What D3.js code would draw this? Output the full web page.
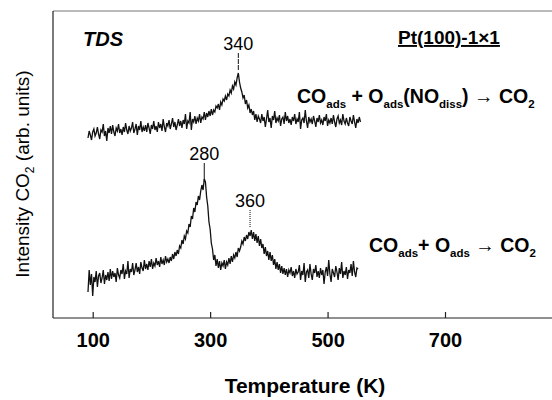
<!DOCTYPE html>
<html>
<head>
<meta charset="utf-8">
<script src="https://cdn.jsdelivr.net/npm/d3@7"></script>
<style>
body { margin: 0; background: #fff; }
svg { display: block; font-family: Arial, "Liberation Sans", sans-serif; }
</style>
</head>
<body>
<div class="chart"></div>
<script>
// temperature grid of the two traces (K)
const tStart = 92, tStep = 2;

// CO + O(NO diss) trace (arb. units, offset included)
const upperCurve = [
    180,187,183,178,186,189,182,185,191,184, 179,188,186,194,182,187,177,190,185,192,
    184,193,186,182,190,187,194,185,189,183, 191,186,195,188,184,192,187,190,196,185,
    189,194,183,192,188,197,186,191,187,193, 186,195,190,184,193,189,197,188,192,186,
    196,190,194,187,199,191,186,195,192,198, 189,194,200,191,196,188,193,199,192,197,
    190,198,194,204,189,197,195,206,188,199, 196,202,194,200,197,204,195,201,199,206,
    198,205,201,207,202,209,203,208,206,212, 210,214,208,216,213,219,217,222,218,224,
    222,228,225,232,229,236,233,240,245,236, 230,226,220,223,214,218,210,213,205,209,
    203,207,198,204,196,202,199,195,204,197, 201,191,199,208,196,200,190,202,198,207,
    195,200,197,203,192,199,201,194,206,197, 202,195,199,193,201,197,204,194,199,196,
    206,189,198,200,195,208,197,190,201,196, 199,194,202,197,191,200,196,203,195,198,
    193,201,197,204,192,198,195,200,194,203, 196,191,199,202,195,198,193,204,197,194,
    200,195,192,201,197,194,203,196,190,199, 195,201,196];

// CO + O trace
const lowerCurve = [
    26,48,33,44,22,41,36,47,31,42, 45,35,40,48,34,43,38,46,37,49,
    39,47,41,45,36,50,43,40,48,44, 54,39,47,44,57,40,49,46,55,43,
    48,55,46,51,44,56,50,47,58,49, 54,48,57,51,59,49,55,52,60,53,
    57,51,61,54,58,53,62,56,59,55, 61,57,64,59,66,62,68,64,72,70,
    78,74,82,79,87,85,94,91,102,99, 110,106,116,113,122,118,127,133,128,139,
    136,121,112,96,89,75,69,58,63,52, 59,50,57,48,55,52,58,49,56,53,
    60,54,62,56,63,60,66,61,70,67, 71,77,74,81,77,83,79,86,82,88,
    79,86,77,84,75,82,72,79,70,74, 64,71,62,67,58,66,57,63,53,59,
    49,56,48,54,45,52,44,50,43,49, 41,48,45,51,42,47,40,49,44,46,
    53,38,47,43,55,36,46,48,40,54, 44,38,49,45,53,41,47,40,50,43,
    48,34,46,51,42,58,44,36,49,45, 41,52,46,38,50,44,56,40,47,43,
    51,39,48,45,54,42,57,46,41,50, 49];

const xTicks = [100, 300, 500, 700];

// peak markers: label text, where the marker sits (K) and label baseline (arb. units)
const peakNames = ["340", "280", "360"];
const peakTemps = [348, 290, 368];
const peakLevels = [268, 158, 111];
const peakDash = ["5,1", null, "1,1"];

const width = 552, height = 400;
const svg = d3.select('.chart').append('svg')
    .attr('width', width)
    .attr('height', height);

const x = d3.scaleLinear().domain([100, 700]).range([92.7, 445]);
const y = d3.scaleLinear().domain([0, 307]).range([318, 11]);

// frame
svg.append('line')
    .attr('x1', 53).attr('x2', width).attr('y1', y(307)).attr('y2', y(307))
    .attr('stroke', '#777').attr('stroke-width', 1);
svg.append('line')
    .attr('x1', 53).attr('x2', 53).attr('y1', y(307)).attr('y2', y(0))
    .attr('stroke', '#222').attr('stroke-width', 1.2);
svg.append('line')
    .attr('x1', 53).attr('x2', width).attr('y1', y(0)).attr('y2', y(0))
    .attr('stroke', '#222').attr('stroke-width', 1.2);

const xAxis = svg.append('g')
    .attr('transform', `translate(0,${y(0)})`)
    .call(d3.axisBottom(x).tickValues(xTicks).tickSize(-6).tickFormat(d3.format('d')));
xAxis.select('.domain').remove();
xAxis.selectAll('line').attr('stroke', '#222').attr('stroke-width', 1.2);
xAxis.selectAll('text')
    .attr('y', 29).attr('dy', null)
    .attr('fill', '#000')
    .style('font-size', '20px')
    .style('font-weight', 'bold')
    .style('font-family', 'Arial, "Liberation Sans", sans-serif');

svg.append('text')
    .attr('x', 305).attr('y', 393)
    .attr('text-anchor', 'middle')
    .style('font-size', '21px').style('font-weight', 'bold')
    .text('Temperature (K)');

const yLabel = svg.append('text')
    .attr('transform', 'translate(29,174) rotate(-90)')
    .attr('text-anchor', 'middle')
    .style('font-size', '19px');
yLabel.append('tspan').text('Intensity CO');
yLabel.append('tspan').attr('dy', 5).style('font-size', '12px').text('2');
yLabel.append('tspan').attr('dy', -5).text(' (arb. units)');

// traces
const line = d3.line()
    .x((d, i) => x(tStart + i * tStep))
    .y(d => y(d));

[upperCurve, lowerCurve].forEach(c => {
    svg.append('path')
        .datum(c)
        .attr('d', line)
        .attr('fill', 'none')
        .attr('stroke', '#111')
        .attr('stroke-width', 1.3)
        .attr('stroke-linejoin', 'miter');
});

// peak markers
peakNames.forEach((name, i) => {
    svg.append('text')
        .attr('x', x(peakTemps[i])).attr('y', y(peakLevels[i]))
        .attr('text-anchor', 'middle')
        .style('font-size', '18px')
        .text(name);
    svg.append('line')
        .attr('x1', x(peakTemps[i])).attr('x2', x(peakTemps[i]))
        .attr('y1', y(peakLevels[i]) + 3).attr('y2', y(peakLevels[i]) + 21)
        .attr('stroke', '#111').attr('stroke-width', 1)
        .attr('stroke-dasharray', peakDash[i]);
});

svg.append('text')
    .attr('x', 83).attr('y', 46)
    .style('font-size', '20px').style('font-weight', 'bold').style('font-style', 'italic')
    .text('TDS');

svg.append('text')
    .attr('x', 398).attr('y', 44)
    .style('font-size', '19px').style('font-weight', 'bold')
    .style('text-decoration', 'underline')
    .text('Pt(100)-1\u00d71');

// reaction labels
function reaction(xPos, yPos, parts) {
    const t = svg.append('text')
        .attr('x', xPos).attr('y', yPos)
        .style('font-size', '19.5px').style('font-weight', 'bold');
    parts.forEach(p => {
        const s = t.append('tspan').text(p[0]);
        if (p[1] === 'sub') s.attr('dy', 5).style('font-size', '11.5px');
        if (p[1] === 'up') s.attr('dy', -5);
        if (p[1] === 'arrow') s.attr('dy', -5).style('font-weight', 'normal');
    });
}
reaction(297, 103, [['CO'], ['ads', 'sub'], [' + O', 'up'], ['ads', 'sub'], ['(NO', 'up'], ['diss', 'sub'], [') ', 'up'], ['\u2192'], [' CO'], ['2', 'sub']]);
reaction(369, 252, [['CO'], ['ads', 'sub'], ['+ O', 'up'], ['ads', 'sub'], [' \u2192 ', 'arrow'], ['CO'], ['2', 'sub']]);
</script>
</body>
</html>
